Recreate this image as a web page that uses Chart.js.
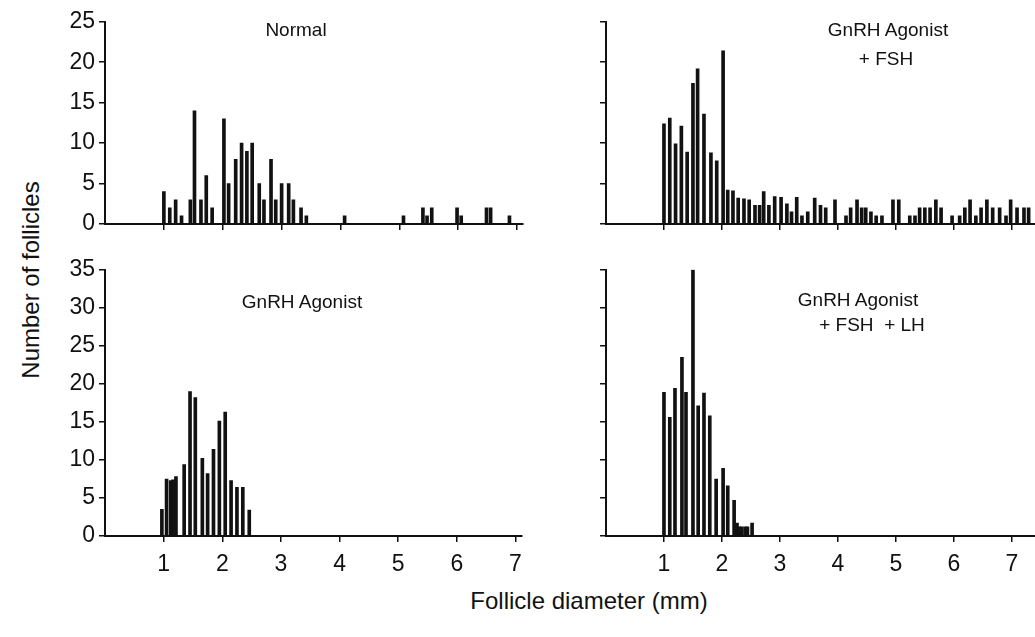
<!DOCTYPE html>
<html>
<head>
<meta charset="utf-8">
<script src="https://cdn.jsdelivr.net/npm/chart.js@4.4.1/dist/chart.umd.min.js"></script>
<style>
  body{margin:0;background:#fff;}
  #wrap{position:relative;width:1035px;height:637px;overflow:hidden;background:#fff;
    font-family:"Liberation Sans",Arial,Helvetica,sans-serif;color:#111;}
  canvas{position:absolute;}
  .lbl{position:absolute;font-size:19px;line-height:19px;white-space:pre;transform:translateX(-50%);}
  .axt{position:absolute;font-size:24px;line-height:24px;white-space:nowrap;}
</style>
</head>
<body>
<div id="wrap">
  <canvas id="c_normal"></canvas>
  <canvas id="c_fsh"></canvas>
  <canvas id="c_agonist"></canvas>
  <canvas id="c_lh"></canvas>
  <div class="lbl" style="left:296px;top:20px;">Normal</div>
  <div class="lbl" style="left:888px;top:20px;">GnRH Agonist</div>
  <div class="lbl" style="left:886px;top:49px;">+ FSH</div>
  <div class="lbl" style="left:302px;top:292px;">GnRH Agonist</div>
  <div class="lbl" style="left:858px;top:290px;">GnRH Agonist</div>
  <div class="lbl" style="left:872px;top:315px;">+ FSH  + LH</div>
  <div class="axt" style="left:589px;top:589px;transform:translateX(-50%);">Follicle diameter (mm)</div>
  <div class="axt" style="left:31px;top:280px;transform:translate(-50%,-50%) rotate(-90deg);">Number of follicles</div>
</div>
<script>
// follicle diameter (mm) / number of follicles
const normalDiam  = [1.0,1.1,1.2,1.3,1.45,1.52,1.63,1.72,1.82,2.02,2.1,2.22,2.32,2.41,2.5,2.62,2.7,2.82,2.9,3.0,3.12,3.2,3.33,3.42,4.07,5.07,5.4,5.47,5.55,5.98,6.05,6.48,6.55,6.87];
const normalCount = [4,2,3,1,3,14,3,6,2,13,5,8,10,9,10,5,3,8,3,5,5,3,2,1,1,1,2,1,2,2,1,2,2,1];

const fshDiam  = [1.0,1.1,1.2,1.3,1.4,1.5,1.58,1.69,1.81,1.91,2.02,2.1,2.19,2.28,2.38,2.47,2.57,2.65,2.72,2.81,2.91,3.02,3.12,3.2,3.29,3.38,3.48,3.6,3.7,3.79,3.95,4.14,4.22,4.33,4.41,4.48,4.57,4.66,4.76,4.95,5.05,5.24,5.33,5.41,5.5,5.59,5.69,5.78,5.97,6.1,6.19,6.28,6.38,6.47,6.57,6.67,6.79,6.9,6.98,7.09,7.21,7.29];
const fshCount = [12.4,13.1,9.9,12.1,8.9,17.4,19.2,13.6,8.8,7.8,21.4,4.2,4.1,3.2,3.1,3,2.3,2.3,4,2.3,3.4,3.3,2.5,1.5,3.3,1,1.5,3.2,2.3,2,3,1,2,3,2,2,1.5,1,1,3,3,1,1,2,2,2,3,2,1,1,2,3,1,2,3,2,2,1,3,2,2,2];

const agonistDiam  = [0.97,1.05,1.12,1.16,1.21,1.35,1.45,1.54,1.66,1.75,1.85,1.95,2.05,2.15,2.25,2.35,2.46];
const agonistCount = [3.5,7.5,7.3,7.4,7.8,9.4,19,18.2,10.2,8.2,11.4,15.1,16.3,7.3,6.4,6.4,3.4];

const lhDiam  = [1.0,1.1,1.19,1.31,1.38,1.5,1.59,1.69,1.79,1.9,2.02,2.1,2.21,2.26,2.3,2.34,2.4,2.44,2.52];
const lhCount = [18.9,15.6,19.4,23.5,18.9,35,17.1,18.8,15.8,7.5,8.9,6.6,4.7,1.7,1.2,1.2,1.2,1.2,1.7];

const xTicks = [1,2,3,4,5,6,7];
const yMaxTop = 25, yMaxBottom = 35, yStep = 5;

const FONT = '"Liberation Sans", Arial, Helvetica, sans-serif';

const makePanel = (id, area, xMax, yMax, xs, ys, xLabels, yLabels) => {
  const yW = 60, xH = xLabels ? 45 : 40, padTop = 16, padRight = area.r >= 1035 ? 0 : 8;
  const cv = document.getElementById(id);
  const left = area.l - yW, top = area.t - padTop;
  const w = area.r - left + padRight, h = area.b - top + xH;
  cv.width = w; cv.height = h;
  cv.style.left = left + 'px'; cv.style.top = top + 'px';
  cv.style.width = w + 'px'; cv.style.height = h + 'px';
  return new Chart(cv.getContext('2d'), {
    type: 'bar',
    data: {
      datasets: [{
        data: xs.map((x, i) => ({x: x, y: ys[i]})),
        backgroundColor: '#111',
        borderWidth: 0,
        barThickness: 3
      }]
    },
    options: {
      responsive: false,
      animation: false,
      devicePixelRatio: 1,
      layout: {padding: {top: padTop, right: padRight, left: 0, bottom: 0}},
      plugins: {legend: {display: false}, tooltip: {enabled: false}},
      scales: {
        x: {
          type: 'linear', min: 0, max: xMax, offset: false,
          afterBuildTicks: (s) => { s.ticks = xTicks.map(v => ({value: v})); },
          afterFit: (s) => { s.height = xH; },
          grid: {drawOnChartArea: false, drawTicks: true, tickLength: 6, color: '#111', lineWidth: 1.5, offset: false},
          border: {display: true, color: '#111', width: 2},
          ticks: {
            padding: 9, color: '#111', maxRotation: 0, autoSkip: false,
            font: {family: FONT, size: 23},
            callback: (v) => xLabels ? String(v) : ''
          }
        },
        y: {
          min: 0, max: yMax,
          afterFit: (s) => { s.width = yW; },
          grid: {drawOnChartArea: false, drawTicks: true, tickLength: 6, color: '#111', lineWidth: 1.5},
          border: {display: true, color: '#111', width: 2},
          ticks: {
            stepSize: yStep, padding: 4, color: '#111',
            font: {family: FONT, size: 23},
            callback: (v) => yLabels ? String(v) : ''
          }
        }
      }
    }
  });
};

makePanel('c_normal',  {l: 105, r: 523,  t: 20,  b: 224}, 7.1, yMaxTop,    normalDiam,  normalCount,  false, true);
makePanel('c_fsh',     {l: 606, r: 1035, t: 20,  b: 224}, 7.4, yMaxTop,    fshDiam,     fshCount,     false, false);
makePanel('c_agonist', {l: 105, r: 523,  t: 268, b: 536}, 7.1, yMaxBottom, agonistDiam, agonistCount, true,  true);
makePanel('c_lh',      {l: 606, r: 1035, t: 268, b: 536}, 7.4, yMaxBottom, lhDiam,      lhCount,      true,  false);
</script>
</body>
</html>
